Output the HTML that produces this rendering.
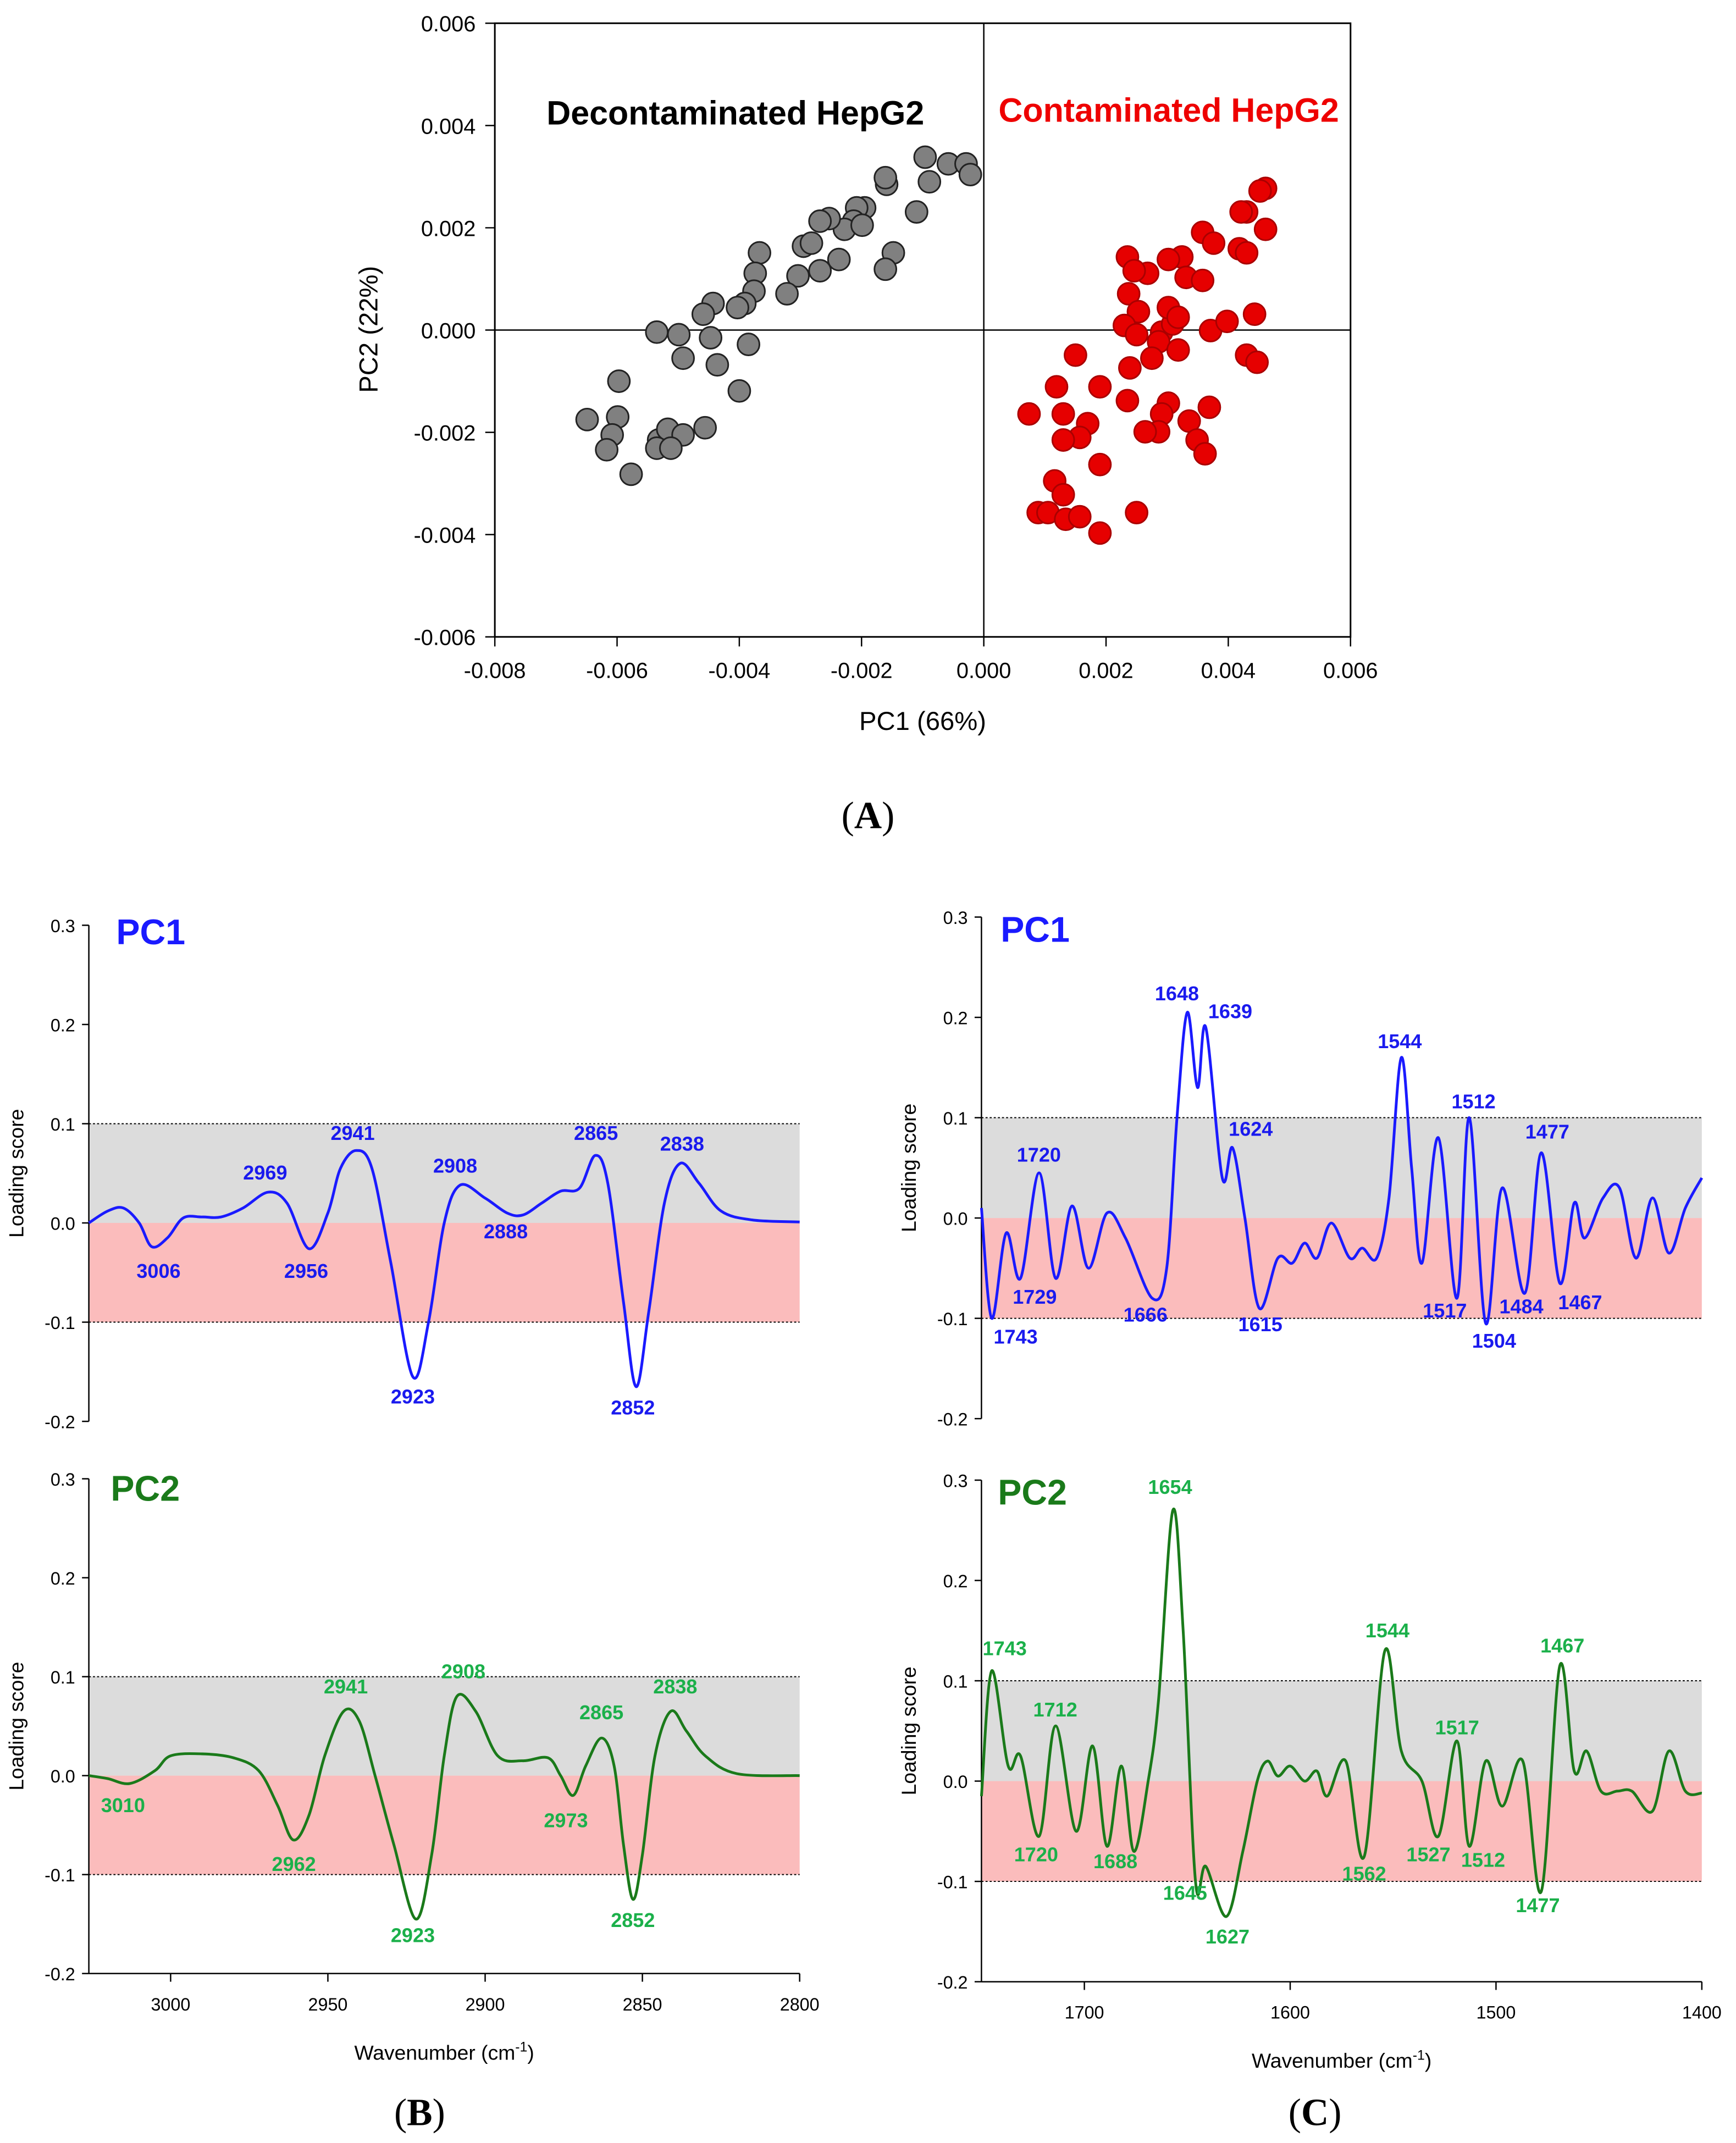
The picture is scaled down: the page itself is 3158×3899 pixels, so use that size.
<!DOCTYPE html>
<html><head><meta charset="utf-8"><style>
html,body{margin:0;padding:0;background:#fff}
svg{display:block}
text{font-family:"Liberation Sans",Arial,sans-serif}
</style></head><body>
<svg id="fig" xmlns="http://www.w3.org/2000/svg" width="3158" height="3899" viewBox="0 0 1270 1568" preserveAspectRatio="none">
<rect width="1270" height="1568" fill="#fff"/>
<g id="A"></g>
<g id="B"></g>
<g id="C"></g>
<text x="635" y="606" text-anchor="middle" font-size="28" style="font-family:'Liberation Serif',serif">(<tspan font-weight="bold">A</tspan>)</text>
<text x="307" y="1555" text-anchor="middle" font-size="28" style="font-family:'Liberation Serif',serif">(<tspan font-weight="bold">B</tspan>)</text>
<text x="962" y="1555" text-anchor="middle" font-size="28" style="font-family:'Liberation Serif',serif">(<tspan font-weight="bold">C</tspan>)</text>
</svg>
<script>
// ---------- Panel A data (units of 0.001) ----------
const greyX=[-0.96,-0.58,-0.29,-0.22,-0.89,-1.10,-1.59,-1.61,-1.95,-2.08,-2.13,-2.28,-2.53,-2.68,-2.95,-2.82,-2.37,-2.68,-3.04,-3.22,-3.67,-3.74,-3.76,-3.91,-4.03,-4.43,-4.59,-4.99,-5.35,-4.92,-4.47,-3.85,-4.36,-4.00,-5.97,-6.49,-5.99,-6.08,-6.17,-5.77,-5.32,-5.17,-5.35,-4.92,-4.56,-5.12,-1.48,-1.61,-1.99];
const greyY=[3.38,3.25,3.25,3.04,2.90,2.31,2.85,2.98,2.39,2.39,2.13,1.97,2.18,2.13,1.64,1.70,1.38,1.16,1.06,0.71,1.51,1.11,0.76,0.52,0.44,0.52,0.31,-0.09,-0.04,-0.55,-0.15,-0.28,-0.68,-1.19,-1.00,-1.75,-1.70,-2.05,-2.34,-2.82,-2.15,-1.94,-2.31,-2.05,-1.91,-2.31,1.51,1.19,2.05];
const redX=[4.61,4.52,4.30,4.21,4.61,4.18,4.30,3.58,3.76,3.24,3.02,3.31,3.58,2.68,2.35,2.46,2.37,2.53,2.30,2.50,2.91,3.09,3.02,3.18,2.86,2.75,3.18,2.39,1.50,1.19,1.90,2.35,0.74,1.30,1.70,1.57,1.30,3.02,2.91,3.69,3.36,2.86,2.64,3.49,3.62,1.90,1.16,1.30,0.89,1.05,1.34,1.57,2.50,1.90,3.71,3.98,4.43,4.30,4.47];
const redY=[2.77,2.72,2.31,2.31,1.97,1.59,1.51,1.91,1.70,1.43,1.38,1.03,0.97,1.11,1.43,1.16,0.71,0.36,0.09,-0.09,-0.04,0.12,0.44,0.25,-0.23,-0.55,-0.39,-0.74,-0.49,-1.11,-1.11,-1.38,-1.64,-1.64,-1.83,-2.10,-2.15,-1.43,-1.64,-1.51,-1.78,-1.99,-1.99,-2.15,-2.42,-2.63,-2.95,-3.22,-3.57,-3.57,-3.70,-3.65,-3.57,-3.97,-0.01,0.17,0.31,-0.49,-0.63];
const aXTicks=[-0.008,-0.006,-0.004,-0.002,0.000,0.002,0.004,0.006];
const aYTicks=[0.006,0.004,0.002,0.000,-0.002,-0.004,-0.006];

// ---------- Loading curves ----------
const bPC1wn=[3026,3020,3015,3010,3006,3001,2996,2990,2984,2977,2969,2963,2956,2950,2946,2941,2936,2930,2923,2918,2913,2908,2900,2893,2888,2882,2876,2870,2865,2861,2856,2852,2848,2843,2838,2832,2825,2815,2800];
const bPC1val=[0.0,0.012,0.015,0.0,-0.024,-0.015,0.005,0.006,0.006,0.015,0.031,0.02,-0.026,0.01,0.055,0.073,0.055,-0.04,-0.155,-0.1,0.0,0.038,0.025,0.01,0.008,0.02,0.032,0.035,0.068,0.04,-0.08,-0.165,-0.09,0.02,0.06,0.04,0.012,0.003,0.001];
const bPC2wn=[3026,3020,3013,3005,3000,2990,2980,2972,2966,2961,2956,2951,2945,2940,2935,2929,2922,2917,2913,2909,2903,2896,2888,2880,2876,2872,2868,2863,2859,2856,2853,2850,2846,2841,2836,2830,2820,2800];
const bPC2val=[0.0,-0.003,-0.008,0.005,0.02,0.022,0.018,0.005,-0.03,-0.065,-0.04,0.02,0.065,0.055,0.0,-0.07,-0.145,-0.08,0.02,0.08,0.065,0.02,0.015,0.018,0.0,-0.02,0.01,0.038,0.01,-0.07,-0.125,-0.08,0.02,0.065,0.045,0.02,0.002,0.0];
const cPC1wn=[1750,1745,1738,1731,1722,1714,1706,1698,1689,1680,1667,1660,1655,1650,1645,1641,1633,1628,1622,1615,1606,1599,1593,1587,1580,1571,1565,1558,1552,1546,1541,1536,1528,1519,1513,1505,1497,1486,1478,1469,1462,1457,1448,1440,1432,1424,1416,1408,1400];
const cPC1val=[0.01,-0.1,-0.015,-0.06,0.045,-0.06,0.012,-0.05,0.005,-0.02,-0.08,-0.05,0.1,0.205,0.13,0.19,0.04,0.07,0.0,-0.09,-0.04,-0.045,-0.025,-0.04,-0.005,-0.04,-0.03,-0.04,0.02,0.16,0.05,-0.045,0.08,-0.08,0.1,-0.105,0.03,-0.075,0.065,-0.065,0.015,-0.02,0.02,0.03,-0.04,0.02,-0.035,0.01,0.04];
const cPC2wn=[1750,1745,1737,1731,1722,1714,1704,1696,1689,1682,1676,1669,1664,1657,1652,1646,1641,1631,1623,1616,1611,1606,1600,1593,1587,1582,1573,1564,1554,1546,1536,1528,1519,1513,1505,1497,1487,1478,1469,1462,1456,1449,1441,1434,1424,1416,1408,1400];
const cPC2val=[-0.015,0.11,0.015,0.025,-0.055,0.055,-0.05,0.035,-0.065,0.015,-0.07,0.0,0.08,0.27,0.15,-0.1,-0.085,-0.135,-0.07,0.0,0.02,0.005,0.015,0.0,0.01,-0.015,0.02,-0.075,0.13,0.03,0.0,-0.055,0.04,-0.065,0.02,-0.025,0.02,-0.11,0.115,0.01,0.03,-0.01,-0.01,-0.01,-0.03,0.03,-0.01,-0.012];
const loadTicks=[0.3,0.2,0.1,0.0,-0.1,-0.2];
const bXTicks=[3000,2950,2900,2850,2800];
const cXTicks=[1700,1600,1500,1400];

const NS="http://www.w3.org/2000/svg";
function mk(parent,tag,attrs,txt){const e=document.createElementNS(NS,tag);for(const k in attrs)e.setAttribute(k,attrs[k]);if(txt!==undefined)e.textContent=txt;parent.appendChild(e);return e;}

// ---------- Panel A ----------
(function(){
const g=document.getElementById('A');
const L=362,R=988,T=17,Bt=466;
const sx=v=>L+(v-(-0.008))/(0.014)*(R-L);
const sy=v=>T+(0.006-v)/(0.012)*(Bt-T);
let e=mk(g,'rect',{x:L,y:T,width:R-L,height:Bt-T,fill:'none',stroke:'#000','stroke-width':1.2});

e=mk(g,'line',{x1:sx(0),x2:sx(0),y1:T,y2:Bt,stroke:'#000','stroke-width':1});

e=mk(g,'line',{x1:L,x2:R,y1:sy(0),y2:sy(0),stroke:'#000','stroke-width':1});

aXTicks.forEach(t=>{mk(g,'line',{x1:sx(t),x2:sx(t),y1:Bt,y2:Bt+7,stroke:'#000'});
 e=mk(g,'text',{x:sx(t),y:Bt+30,'text-anchor':'middle','font-size':16},t.toFixed(3));
 });
aYTicks.forEach(t=>{mk(g,'line',{x1:L-7,x2:L,y1:sy(t),y2:sy(t),stroke:'#000'});
 e=mk(g,'text',{x:L-14,y:sy(t)+6,'text-anchor':'end','font-size':16},t.toFixed(3));
 });
e=mk(g,'text',{x:675,y:534,'text-anchor':'middle','font-size':19},'PC1 (66%)');

e=mk(g,'text',{x:276,y:241,'text-anchor':'middle','font-size':19,transform:'rotate(-90 276 241)'},'PC2 (22%)');

e=mk(g,'text',{x:538,y:91,'text-anchor':'middle','font-size':24.5,'font-weight':'bold'},'Decontaminated HepG2');

e=mk(g,'text',{x:855,y:89,'text-anchor':'middle','font-size':24.5,'font-weight':'bold',fill:'#e00'},'Contaminated HepG2');

greyX.forEach((x,i)=>{e=mk(g,'circle',{cx:sx(x/1000),cy:sy(greyY[i]/1000),r:8,fill:'#808080',stroke:'#222','stroke-width':1.2});
 });
redX.forEach((x,i)=>{e=mk(g,'circle',{cx:sx(x/1000),cy:sy(redY[i]/1000),r:8,fill:'#e60000',stroke:'#a00','stroke-width':1.2});
 });
})();

// ---------- Loading panels ----------
function smooth(pts){let d='M'+pts[0][0]+','+pts[0][1];
 for(let i=0;i<pts.length-1;i++){const p0=pts[i-1]||pts[i],p1=pts[i],p2=pts[i+1],p3=pts[i+2]||p2;
  const c1=[p1[0]+(p2[0]-p0[0])/6,p1[1]+(p2[1]-p0[1])/6],c2=[p2[0]-(p3[0]-p1[0])/6,p2[1]-(p3[1]-p1[1])/6];
  d+='C'+c1[0]+','+c1[1]+' '+c2[0]+','+c2[1]+' '+p2[0]+','+p2[1];}return d;}
function loadPanel(g,o){
 const sx=w=>o.L+(o.w0-w)/(o.w0-o.w1)*(o.R-o.L);
 const sy=v=>o.T+(0.3-v)/0.5*(o.B-o.T);
 let e=mk(g,'rect',{x:o.L,y:sy(0.1),width:o.R-o.L,height:sy(0)-sy(0.1),fill:'#dcdcdc'});
 
 e=mk(g,'rect',{x:o.L,y:sy(0),width:o.R-o.L,height:sy(-0.1)-sy(0),fill:'#fbbcbc'});
 
 [0.1,-0.1].forEach(v=>{e=mk(g,'line',{x1:o.L,x2:o.R,y1:sy(v),y2:sy(v),stroke:'#000','stroke-width':0.8,'stroke-dasharray':'1.5,1.5'});
  });
 e=mk(g,'line',{x1:o.L,x2:o.L,y1:o.T,y2:o.B,stroke:'#000','stroke-width':1});
 
 loadTicks.forEach(t=>{mk(g,'line',{x1:o.L-5,x2:o.L,y1:sy(t),y2:sy(t),stroke:'#000'});
  e=mk(g,'text',{x:o.L-10,y:sy(t)+5,'text-anchor':'end','font-size':13},t.toFixed(1));
  });
 e=mk(g,'text',{x:o.L-48,y:(o.T+o.B)/2,'text-anchor':'middle','font-size':15,transform:'rotate(-90 '+(o.L-48)+' '+(o.T+o.B)/2+')'},'Loading score');
 
 if(o.xticks){e=mk(g,'line',{x1:o.L,x2:o.R,y1:o.B,y2:o.B,stroke:'#000'});
  
  o.xticks.forEach(t=>{mk(g,'line',{x1:sx(t),x2:sx(t),y1:o.B,y2:o.B+6,stroke:'#000'});
   e=mk(g,'text',{x:sx(t),y:o.B+27,'text-anchor':'middle','font-size':13},t);
   });
  e=mk(g,'text',{x:(o.L+o.R)/2,y:o.B+63,'text-anchor':'middle','font-size':15},'Wavenumber (cm');
  mk(e,'tspan',{'font-size':10,dy:-6},'-1');mk(e,'tspan',{dy:6},')');
  }
 e=mk(g,'text',{x:o.L+o.tx,y:o.T+o.ty,'font-size':26,'font-weight':'bold',fill:o.col},o.title);
 
 const pts=o.wn.map((w,i)=>[sx(w),sy(o.val[i])]);
 e=mk(g,'path',{d:smooth(pts),fill:'none',stroke:o.col,'stroke-width':2});
 
 o.labels.forEach(l=>{e=mk(g,'text',{x:l[1],y:l[2],'text-anchor':'middle','font-size':14.5,'font-weight':'bold',fill:o.lc},l[0]);
  });
}
const blue='#1a1aff',green='#1a7a1a',lgreen='#1bb04a';
const gB=document.getElementById('B'),gC=document.getElementById('C');
loadPanel(mk(gB,'g',{}),{L:65,R:585,T:677,B:1040,w0:3026,w1:2800,wn:bPC1wn,val:bPC1val,col:blue,lc:'#1a1aee',title:'PC1',tx:20,ty:14,
 labels:[['3006',116,935],['2969',194,863],['2956',224,935],['2941',258,834],['2923',302,1027],['2908',333,858],['2888',370,906],['2865',436,834],['2852',463,1035],['2838',499,842]]});
loadPanel(mk(gB,'g',{}),{L:65,R:585,T:1082,B:1444,w0:3026,w1:2800,wn:bPC2wn,val:bPC2val,col:green,lc:lgreen,title:'PC2',tx:16,ty:16,xticks:bXTicks,
 labels:[['3010',90,1326],['2962',215,1369],['2941',253,1239],['2923',302,1421],['2908',339,1228],['2973',414,1337],['2865',440,1258],['2852',463,1410],['2838',494,1239]]});
loadPanel(mk(gC,'g',{}),{L:718,R:1245,T:671,B:1038,w0:1750,w1:1400,wn:cPC1wn,val:cPC1val,col:blue,lc:'#1a1aee',title:'PC1',tx:14,ty:18,
 labels:[['1743',743,983],['1729',757,954],['1720',760,850],['1666',838,967],['1648',861,732],['1639',900,745],['1624',915,831],['1615',922,974],['1544',1024,767],['1517',1057,964],['1512',1078,811],['1504',1093,986],['1484',1113,961],['1477',1132,833],['1467',1156,958]]});
loadPanel(mk(gC,'g',{}),{L:718,R:1245,T:1083,B:1450,w0:1750,w1:1400,wn:cPC2wn,val:cPC2val,col:green,lc:lgreen,title:'PC2',tx:12,ty:18,xticks:cXTicks,
 labels:[['1743',735,1211],['1712',772,1256],['1720',758,1362],['1688',816,1367],['1654',856,1093],['1645',867,1390],['1627',898,1422],['1562',998,1376],['1544',1015,1198],['1517',1066,1269],['1527',1045,1362],['1512',1085,1366],['1477',1125,1399],['1467',1143,1209]]});
</script>
</body></html>
